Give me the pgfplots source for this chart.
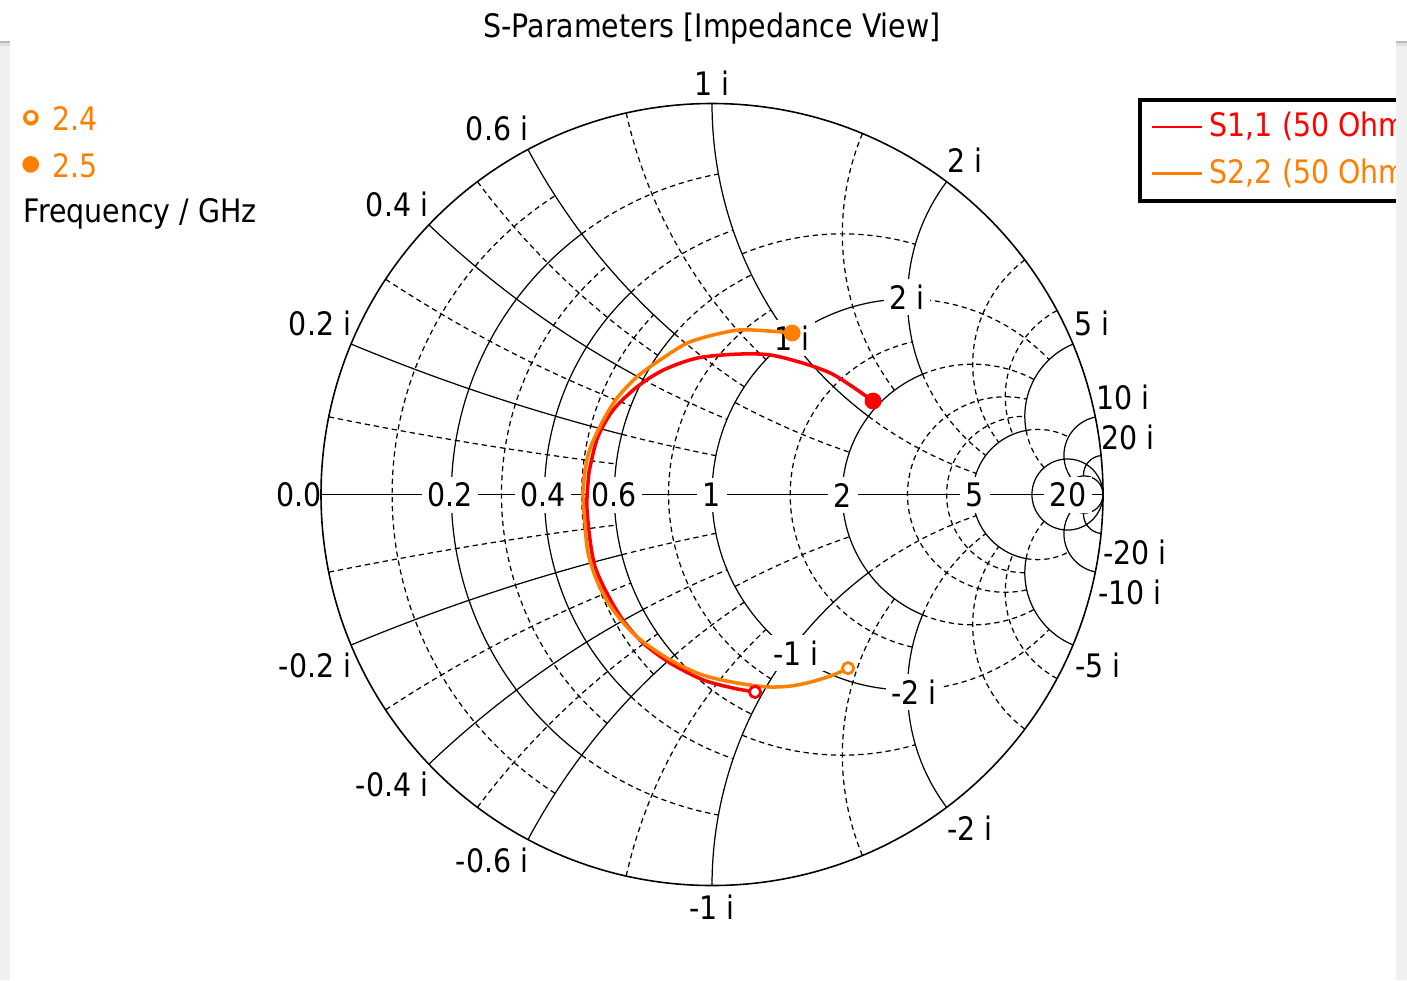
\documentclass[border=0pt]{standalone}
\usepackage{fontspec}
\setmainfont{DejaVu Sans}[FakeStretch=0.88]
\newfontfamily\symfont{DejaVu Sans}
\usepackage{pgfplots}
\pgfplotsset{compat=1.18}
\definecolor{sred}{RGB}{255,0,0}
\definecolor{sorange}{RGB}{255,128,0}
\definecolor{chrome}{RGB}{240,240,240}

\def\OX{7.12}\def\OY{4.855}\def\S{3.91}
% resistance circle r=#2 from reactance #3 to #4
\newcommand{\Rarc}[4]{%
  \pgfmathsetmacro{\smcx}{\OX+\S*(#2)/(1+(#2))}%
  \pgfmathsetmacro{\smR}{\S/(1+(#2))}%
  \pgfmathsetmacro{\smta}{180-2*atan((#3)/(1+(#2)))}%
  \pgfmathsetmacro{\smtb}{180-2*atan((#4)/(1+(#2)))}%
  \draw[#1] (\smcx,\OY) ++(\smta:\smR) arc[start angle=\smta,end angle=\smtb,radius=\smR];%
}
\newcommand{\RarcF}[3]{\Rarc{#1}{#2}{-#3}{#3}}
\newcommand{\RarcP}[4]{\Rarc{#1}{#2}{#3}{#4}\Rarc{#1}{#2}{-#3}{-#4}}
% reactance arcs +-#2 from resistance #3 to #4
\newcommand{\Xarc}[4]{%
  \pgfmathsetmacro{\smR}{\S/(#2)}%
  \pgfmathsetmacro{\smta}{90+2*atan((1+(#3))/(#2))}%
  \pgfmathsetmacro{\smtb}{90+2*atan((1+(#4))/(#2))}%
  \pgfmathsetmacro{\smcx}{\OX+\S}%
  \pgfmathsetmacro{\smcy}{\OY+\smR}%
  \pgfmathsetmacro{\smcyy}{\OY-\smR}%
  \pgfmathsetmacro{\smtc}{-\smta}%
  \pgfmathsetmacro{\smtd}{-\smtb}%
  \draw[#1] (\smcx,\smcy) ++(\smta:\smR) arc[start angle=\smta,end angle=\smtb,radius=\smR];%
  \draw[#1] (\smcx,\smcyy) ++(\smtc:\smR) arc[start angle=\smtc,end angle=\smtd,radius=\smR];%
}
\newcommand{\lab}[3]{\node[inner sep=0pt] at ({#1/100},{9.8-#2/100}) {#3};}
\newcommand{\labw}[3]{\node[fill=white,inner sep=1.6pt] at ({#1/100},{9.8-#2/100}) {#3};}

\begin{document}
\begin{tikzpicture}[font=\fontsize{9.2}{11}\selectfont,
  sg/.style={black,line width=0.35pt},
  dg/.style={black,line width=0.35pt,dash pattern=on 1.5pt off 1.1pt}]
% ---------- grid: solid ----------
\draw[sg,line width=0.45pt] (\OX,\OY) circle[radius=\S];
\draw[sg] ({\OX-\S},\OY) -- ({\OX+\S},\OY);
\RarcF{sg}{0.2}{0.6}\RarcF{sg}{0.4}{0.6}\RarcF{sg}{0.6}{0.6}
\Xarc{sg}{0.2}{0}{0.6}\Xarc{sg}{0.4}{0}{0.6}\Xarc{sg}{0.6}{0}{0.6}
\RarcF{sg}{1}{2}\RarcF{sg}{2}{2}
\Xarc{sg}{1}{0}{2}\Xarc{sg}{2}{0}{2}
\RarcF{sg}{5}{5}\Xarc{sg}{5}{0}{5}
\RarcF{sg}{10}{1000}\RarcF{sg}{20}{1000}
\Xarc{sg}{10}{0}{20}\Xarc{sg}{20}{0}{20}
% ---------- grid: dashed ----------
\RarcF{dg}{0.1}{0.6}\RarcF{dg}{0.3}{0.6}\RarcF{dg}{0.5}{0.6}
\Xarc{dg}{0.1}{0}{0.6}\Xarc{dg}{0.3}{0}{0.6}\Xarc{dg}{0.5}{0}{0.6}
\RarcP{dg}{0.2}{0.6}{1}\RarcP{dg}{0.4}{0.6}{1}\RarcP{dg}{0.6}{0.6}{1}
\RarcF{dg}{0.8}{1}
\Xarc{dg}{0.2}{0.6}{1}\Xarc{dg}{0.4}{0.6}{1}\Xarc{dg}{0.6}{0.6}{1}\Xarc{dg}{0.8}{0}{1}
\RarcP{dg}{0.5}{1}{2}\RarcF{dg}{1.5}{2}
\Xarc{dg}{0.5}{1}{2}\Xarc{dg}{1.5}{0}{2}
\RarcP{dg}{1}{2}{5}\RarcP{dg}{2}{2}{5}\RarcF{dg}{3}{5}\RarcF{dg}{4}{5}
\Xarc{dg}{1}{2}{5}\Xarc{dg}{2}{2}{5}\Xarc{dg}{3}{0}{5}\Xarc{dg}{4}{0}{5}
\RarcP{dg}{5}{5}{10}\Xarc{dg}{5}{5}{10}
% ---------- labels ----------
\lab{299}{495}{0.0}
\labw{450}{495}{0.2}\labw{543}{495}{0.4}\labw{614}{495}{0.6}\labw{712}{495}{1}
\labw{843}{495}{2}\labw{975}{495}{5}\labw{1068}{495}{20}
\labw{792}{338}{1 i}\labw{907}{297}{2 i}\labw{796}{653}{-1 i}\labw{914}{692}{-2 i}
\lab{712}{83}{1 i}\lab{497}{128}{0.6 i}\lab{397}{204}{0.4 i}\lab{320}{323}{0.2 i}
\lab{965}{160}{2 i}\lab{1092}{323}{5 i}\lab{1123}{397}{10 i}\lab{1128}{437}{20 i}
\lab{712}{907}{-1 i}\lab{492}{860}{-0.6 i}\lab{392}{784}{-0.4 i}\lab{315}{665}{-0.2 i}
\lab{970}{828}{-2 i}\lab{1098}{665}{-5 i}\lab{1130}{592}{-10 i}\lab{1135}{552}{-20 i}
% ---------- data ----------
\begin{axis}[at={(7.12cm,4.855cm)},anchor=center,x=3.91cm,y=3.91cm,
  xmin=-1,xmax=1,ymin=-1,ymax=1,hide axis,clip=false,
  legend style={at={(1.0448,1.0070)},anchor=north west,draw=black,line width=1.1pt,
    fill=white,inner xsep=3pt,inner ysep=1.5pt,row sep=0.7pt,
    font=\fontsize{9.2}{11}\selectfont},
  legend image code/.code={\draw[#1,line width=0.6pt] (0cm,0cm) -- (0.5cm,0cm);},
  legend cell align=left]
\addplot[sred,line width=1pt,smooth,tension=0.5] coordinates {
(0.110,-0.505) (0.054,-0.495) (-0.023,-0.474) (-0.107,-0.431) (-0.176,-0.380)
(-0.228,-0.321) (-0.269,-0.252) (-0.299,-0.185) (-0.312,-0.116) (-0.320,-0.032)
(-0.317,0.032) (-0.312,0.070) (-0.292,0.147) (-0.253,0.216) (-0.192,0.275)
(-0.125,0.318) (-0.038,0.349) (0.064,0.359) (0.148,0.357) (0.233,0.336)
(0.302,0.311) (0.353,0.280) (0.412,0.239)};
\addlegendentry{\textcolor{sred}{S1,1 (50 Ohm)}}
\addplot[sorange,line width=1pt,smooth,tension=0.5] coordinates {
(0.348,-0.444) (0.309,-0.462) (0.251,-0.480) (0.199,-0.490) (0.141,-0.492)
(0.064,-0.482) (-0.023,-0.462) (-0.107,-0.423) (-0.192,-0.364) (-0.253,-0.295)
(-0.292,-0.226) (-0.317,-0.150) (-0.325,-0.073) (-0.330,0.012) (-0.316,0.105)
(-0.284,0.179) (-0.245,0.244) (-0.192,0.301) (-0.133,0.344) (-0.064,0.387)
(0.003,0.408) (0.072,0.421) (0.148,0.418) (0.205,0.413)};
\addlegendentry{\textcolor{sorange}{S2,2 (50 Ohm)}}
\addplot[forget plot,only marks,mark=*,mark size=1.6pt,
  mark options={draw=sred,fill=white,line width=0.8pt}] coordinates {(0.110,-0.505)};
\addplot[forget plot,only marks,mark=*,mark size=2.2pt,
  mark options={draw=sred,fill=sred}] coordinates {(0.412,0.239)};
\addplot[forget plot,only marks,mark=*,mark size=1.6pt,
  mark options={draw=sorange,fill=white,line width=0.8pt}] coordinates {(0.348,-0.444)};
\addplot[forget plot,only marks,mark=*,mark size=2.2pt,
  mark options={draw=sorange,fill=sorange}] coordinates {(0.205,0.413)};
\end{axis}
% ---------- title and frequency annotation ----------
\node[anchor=base] at (7.12,{9.8-0.37}) {S-Parameters [Impedance View]};
\node[anchor=center,text=sorange,inner sep=0pt] at (0.31,{9.8-1.18}) {\symfont\fontsize{5.8}{6}\selectfont ●};
\node[anchor=center,text=white,inner sep=0pt] at (0.31,{9.8-1.18}) {\symfont\fontsize{3.2}{4}\selectfont ●};
\node[anchor=center,text=sorange,inner sep=0pt] at (0.31,{9.8-1.645}) {\symfont\fontsize{6.2}{7}\selectfont ●};
\node[anchor=base west,text=sorange,inner sep=0pt] at (0.52,{9.8-1.30}) {2.4};
\node[anchor=base west,text=sorange,inner sep=0pt] at (0.52,{9.8-1.77}) {2.5};
\node[anchor=base west,inner sep=0pt] at (0.23,{9.8-2.22}) {Frequency / GHz};
% ---------- window chrome ----------
\fill[chrome] (0,0) rectangle (0.10,9.34);
\fill[chrome] (13.96,0) rectangle (14.07,9.34);
\fill[gray!55] (0,9.37) rectangle (0.10,9.39);
\fill[gray!25] (0,9.34) rectangle (0.10,9.37);
\fill[gray!55] (13.96,9.37) rectangle (14.07,9.39);
\fill[gray!25] (13.96,9.34) rectangle (14.07,9.37);
\pgfresetboundingbox
\path[use as bounding box] (0,0) rectangle (14.07,9.80);
\end{tikzpicture}
\end{document}
